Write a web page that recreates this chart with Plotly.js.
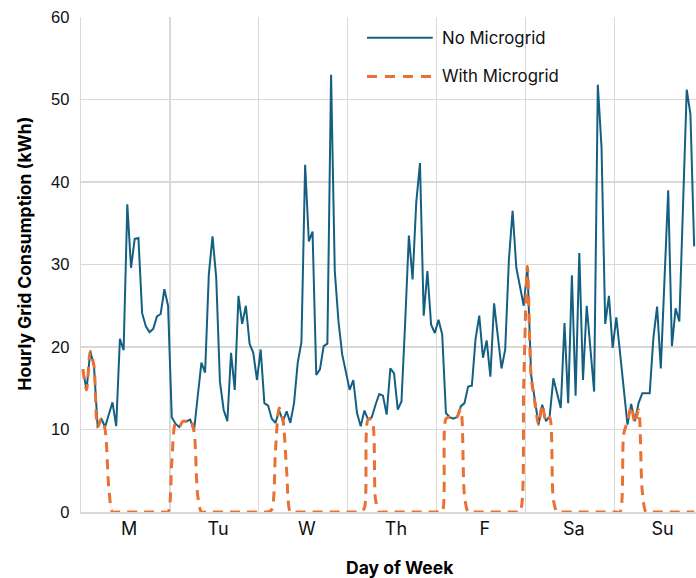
<!DOCTYPE html>
<html>
<head>
<meta charset="utf-8">
<script src="https://cdn.plot.ly/plotly-3.0.1.min.js"></script>
<style>
html,body{margin:0;padding:0;background:#fff;overflow:hidden;}
#chart{width:696px;height:578px;}
</style>
</head>
<body>
<div id="chart"></div>
<script>
// Day-of-week labels (each day = 24 hourly points)
const dayLabels = ['M', 'Tu', 'W', 'Th', 'F', 'Sa', 'Su'];
const hoursPerDay = 24;

// Hourly grid consumption without microgrid (kWh)
const noMicrogrid = [
  17.3, 14.8, 19.5, 17.7, 10.3, 11.3, 10.3, 11.8, 13.3, 10.4, 21.0, 19.6,
  37.3, 29.6, 33.1, 33.2, 24.1, 22.5, 21.8, 22.2, 23.7, 24.0, 27.0, 25.0,
  11.5, 10.7, 10.3, 11.0, 11.0, 11.2, 9.8, 14.0, 18.1, 16.9, 28.8, 33.4,
  28.4, 15.8, 12.4, 11.0, 19.3, 14.8, 26.2, 22.8, 25.0, 20.4, 19.3, 16.0,
  19.7, 13.2, 12.9, 11.3, 10.8, 12.3, 11.0, 12.2, 10.8, 13.2, 18.1, 20.6,
  42.1, 32.8, 34.0, 16.6, 17.3, 20.1, 20.4, 53.0, 29.2, 23.1, 19.1, 17.0,
  14.8, 16.0, 12.0, 10.4, 12.3, 11.2, 11.5, 13.0, 14.3, 14.1, 11.8, 17.4,
  16.8, 12.4, 13.4, 23.0, 33.5, 28.2, 37.6, 42.3, 23.8, 29.2, 22.7, 21.7,
  23.3, 21.5, 12.0, 11.5, 11.3, 11.5, 12.8, 13.2, 15.2, 15.3, 21.0, 23.8,
  18.7, 20.8, 16.4, 25.3, 21.3, 17.4, 19.7, 30.6, 36.5, 29.6, 27.3, 25.0,
  29.6, 16.6, 13.6, 10.6, 13.0, 11.0, 11.6, 16.2, 14.4, 12.6, 22.9, 13.2,
  28.7, 14.1, 31.4, 16.0, 25.0, 20.1, 14.6, 51.8, 44.2, 22.8, 26.2, 19.9,
  23.6, 19.3, 14.8, 10.6, 13.1, 11.0, 13.2, 14.4, 14.4, 14.4, 21.1, 24.9,
  17.4, 28.2, 39.0, 20.1, 24.7, 23.1, 37.2, 51.2, 48.2, 32.2
];

// Hourly grid consumption with microgrid (kWh)
const withMicrogrid = [
  17.3, 14.8, 19.5, 17.7, 10.3, 11.3, 10.0, 3.0, 0, 0, 0, 0,
  0, 0, 0, 0, 0, 0, 0, 0, 0, 0, 0, 0,
  6.0, 10.7, 10.3, 11.0, 11.0, 11.2, 9.8, 2.0, 0, 0, 0, 0,
  0, 0, 0, 0, 0, 0, 0, 0, 0, 0, 0, 0,
  0, 0, 0, 0.3, 7.5, 12.6, 11.2, 5.0, 0, 0, 0, 0,
  0, 0, 0, 0, 0, 0, 0, 0, 0, 0, 0, 0,
  0, 0, 0, 0, 0.5, 11.2, 11.2, 1.5, 0, 0, 0, 0,
  0, 0, 0, 0, 0, 0, 0, 0, 0, 0, 0, 0,
  0, 0, 11.3, 11.5, 11.3, 11.5, 12.5, 2.0, 0, 0, 0, 0,
  0, 0, 0, 0, 0, 0, 0, 0, 0, 0, 0, 15.6,
  29.8, 16.4, 13.3, 10.6, 13.0, 11.0, 11.5, 1.5, 0, 0, 0, 0,
  0, 0, 0, 0, 0, 0, 0, 0, 0, 0, 0, 0,
  0, 0, 9.5, 11.0, 12.8, 10.8, 12.4, 2.5, 0, 0, 0, 0,
  0, 0, 0, 0, 0, 0, 0, 0, 0, 0
];

const seriesNames = ['No Microgrid', 'With Microgrid'];
const yTicks = [0, 10, 20, 30, 40, 50, 60];
const xTitle = 'Day of Week';
const yTitle = 'Hourly Grid Consumption (kWh)';

const hourIndex = noMicrogrid.map((_, i) => i);
const dayLabelPos = dayLabels.map((_, d) => d * hoursPerDay + hoursPerDay / 2 + 0.5);
const dayBounds = dayLabels.map((_, d) => d * hoursPerDay - 0.5);

const BLUE = '#156082';
const ORANGE = '#E97132';
const GRID = '#d9d9d9';
const FONT = 'Inter, "Open Sans", sans-serif';

const traces = [
  {
    x: hourIndex, y: noMicrogrid, name: seriesNames[0], type: 'scatter', mode: 'lines',
    line: {color: BLUE, width: 2}, showlegend: false, hoverinfo: 'x+y'
  },
  {
    x: hourIndex, y: withMicrogrid, name: seriesNames[1], type: 'scatter', mode: 'lines',
    line: {color: ORANGE, width: 3, dash: '10px,7px', shape: 'spline', smoothing: 0.8},
    showlegend: false, hoverinfo: 'x+y'
  }
];

// manual legend (line samples + labels) in paper coordinates
const legY = [0.958, 0.880];
const legendShapes = seriesNames.map((n, k) => ({
  type: 'line', xref: 'paper', yref: 'paper',
  x0: 0.465, x1: 0.572, y0: legY[k], y1: legY[k],
  line: {color: k === 0 ? BLUE : ORANGE, width: k === 0 ? 2 : 3, dash: k === 0 ? 'solid' : '10px,8px'}
}));
const legendLabels = seriesNames.map((n, k) => ({
  xref: 'paper', yref: 'paper', x: 0.584, y: legY[k], xanchor: 'left', yanchor: 'middle',
  text: n, showarrow: false, font: {family: FONT, size: 16.8, color: '#111'}
}));

const titleAnnotations = [
  {xref: 'paper', yref: 'paper', x: 0.519, y: -0.113, xanchor: 'center', yanchor: 'middle',
   text: '<b>' + xTitle + '</b>', showarrow: false, font: {family: FONT, size: 17.5, color: '#000'}},
  {xref: 'paper', yref: 'paper', x: -0.091, y: 0.522, xanchor: 'center', yanchor: 'middle', textangle: -90,
   text: '<b>' + yTitle + '</b>', showarrow: false, font: {family: FONT, size: 17.5, color: '#000'}}
];

const layout = {
  width: 696, height: 578,
  margin: {l: 81, r: 0, t: 17, b: 66},
  paper_bgcolor: '#fff', plot_bgcolor: '#fff',
  showlegend: false,
  xaxis: {
    range: [-0.5, 165.5],
    tickmode: 'array', tickvals: dayLabelPos, ticktext: dayLabels,
    showgrid: false, zeroline: false,
    showline: true, linecolor: GRID, linewidth: 1.5,
    ticks: '', tickfont: {family: FONT, size: 18, color: '#111'},
    minor: {tickmode: 'array', tickvals: dayBounds, showgrid: true, gridcolor: GRID, gridwidth: 1.3, ticks: ''},
    fixedrange: true
  },
  yaxis: {
    range: [0, 60], tickmode: 'array', tickvals: yTicks,
    showgrid: true, gridcolor: GRID, gridwidth: 1.3,
    zeroline: false, showline: true, linecolor: GRID, linewidth: 1.3,
    ticks: '', ticklabelstandoff: 7,
    tickfont: {family: '"Liberation Sans", Arial, sans-serif', size: 16.5, color: '#111'},
    fixedrange: true
  },
  shapes: legendShapes,
  annotations: legendLabels.concat(titleAnnotations)
};

Plotly.newPlot('chart', traces, layout, {displayModeBar: false, staticPlot: true});
</script>
</body>
</html>
